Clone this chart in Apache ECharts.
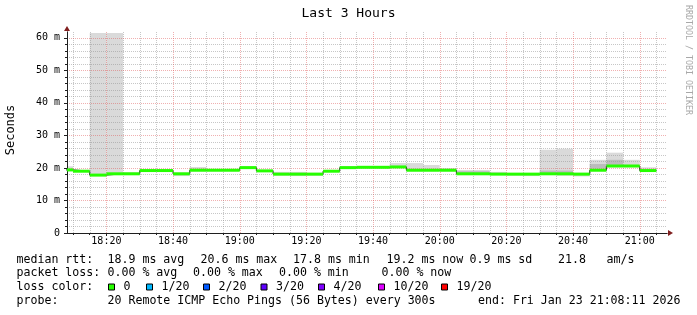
<!DOCTYPE html>
<html><head><meta charset="utf-8">
<script src="https://cdn.jsdelivr.net/npm/echarts@6/dist/echarts.min.js"></script>
<style>html,body{margin:0;padding:0;background:#fff}#c{width:697px;height:315px}</style>
</head><body><div id="c"></div>
<script>
// ---------- data ----------
const chartTitle = 'Last 3 Hours';
const yAxisName = 'Seconds';
const credit = 'RRDTOOL / TOBI OETIKER';
const startTime = '18:08:11';
const endTime = '21:08:11';
const binMinutes = 5;
const binStarts = ['18:05','18:10','18:15','18:20','18:25','18:30','18:35','18:40','18:45','18:50',
  '18:55','19:00','19:05','19:10','19:15','19:20','19:25','19:30','19:35','19:40',
  '19:45','19:50','19:55','20:00','20:05','20:10','20:15','20:20','20:25','20:30',
  '20:35','20:40','20:45','20:50','20:55','21:00'];
const medianMs = [19.4,19.0,17.8,18.2,18.2,19.2,19.2,18.2,19.3,19.3,
  19.3,20.1,19.1,18.1,18.1,18.1,19.0,20.1,20.2,20.2,
  20.3,19.3,19.3,19.3,18.2,18.2,18.1,18.1,18.1,18.2,
  18.2,18.1,19.3,20.6,20.6,19.2];
const smokeLo = [19.0,18.8,17.5,17.9,17.9,18.9,18.9,17.5,19.0,19.0,
  19.0,19.8,18.9,17.6,17.5,17.6,18.8,19.8,19.9,19.9,
  20.0,19.0,19.0,19.0,17.9,17.9,17.9,17.6,17.5,17.9,
  17.6,17.4,19.0,20.2,20.2,19.0];
const smokeHi = [20.5,19.4,61.5,61.5,18.7,19.4,19.4,18.6,20.3,19.6,
  19.6,20.5,19.4,18.8,18.8,18.5,19.3,20.5,20.6,20.5,
  21.5,21.5,20.9,19.9,19.4,19.4,18.8,18.4,18.4,25.6,
  25.9,18.5,22.5,24.7,22.5,20.2];
const smokeDarkLo = [null,null,null,null,null,null,null,null,null,null,
  null,null,null,null,null,null,null,null,null,null,
  null,null,null,null,18.4,18.4,null,null,null,18.4,
  18.4,null,19.8,20.8,null,null];
const smokeDarkHi = [null,null,null,null,null,null,null,null,null,null,
  null,null,null,null,null,null,null,null,null,null,
  null,null,null,null,19.0,19.0,null,null,null,19.2,
  19.2,null,21.2,22.5,null,null];
const majorXTicks = ['18:20','18:40','19:00','19:20','19:40','20:00','20:20','20:40','21:00'];
const minorXTicks = ['18:10','18:15','18:25','18:30','18:35','18:45','18:50','18:55','19:05','19:10',
  '19:15','19:25','19:30','19:35','19:45','19:50','19:55','20:05','20:10','20:15',
  '20:25','20:30','20:35','20:45','20:50','20:55','21:05'];
const majorYTicks = [0,10,20,30,40,50,60];
const minorYTicks = [2,4,6,8,12,14,16,18,22,24,26,28,32,34,36,38,42,44,46,48,52,54,56,58];
const yMax = 61.8;

const rttRow = ['median rtt:', '18.9 ms avg', '20.6 ms max', '17.8 ms min', '19.2 ms now', '0.9 ms sd', '21.8', 'am/s'];
const rttX = [16.5, 107.5, 200.5, 293, 386.5, 469.5, 558, 606.5];
const lossRow = ['packet loss:', '0.00 % avg', '0.00 % max', '0.00 % min', '0.00 % now'];
const lossX = [16.5, 107.5, 193, 279, 381.5];
const lossColorLabels = ['0', '1/20', '2/20', '3/20', '4/20', '10/20', '19/20'];
const lossColors = ['#26ff00', '#00b8ff', '#0059ff', '#5e00ff', '#7e00ff', '#dd00ff', '#ff0000'];
const lossColorX = [108, 146, 203, 260.5, 318, 378, 441];
const probeRow = ['probe:', '20 Remote ICMP Echo Pings (56 Bytes) every 300s', 'end: Fri Jan 23 21:08:11 2026'];
const probeX = [16.5, 107.5, 478];

// ---------- helpers ----------
function toMin(s) { const p = s.split(':').map(Number); return p[0] * 60 + p[1] + (p[2] || 0) / 60; }
function fmtTime(v) { const h = Math.floor(v / 60), m = Math.round(v - h * 60); return h + ':' + (m < 10 ? '0' : '') + m; }
const xMin = toMin(startTime), xMax = toMin(endTime);
const MONO = '"DejaVu Sans Mono", "Liberation Mono", monospace';

const smokeData = binStarts.map((t, i) => [toMin(t), toMin(t) + binMinutes, smokeLo[i], smokeHi[i]]);
const darkData = binStarts.map((t, i) => [toMin(t), toMin(t) + binMinutes, smokeDarkLo[i], smokeDarkHi[i]])
  .filter(d => d[2] != null);
const bandData = binStarts.map((t, i) => [toMin(t), toMin(t) + binMinutes, medianMs[i]]);
const lineData = binStarts.map((t, i) => [toMin(t), medianMs[i]]);
lineData.push([toMin(binStarts[binStarts.length - 1]) + binMinutes, medianMs[medianMs.length - 1]]);

function clipTo(params, r) {
  const cs = params.coordSys;
  return echarts.graphic.clipRectByRect(r, { x: cs.x, y: cs.y, width: cs.width, height: cs.height });
}
function smokeRender(color) {
  return function (params, api) {
    const p0 = api.coord([api.value(0), api.value(3)]);
    const p1 = api.coord([api.value(1), api.value(2)]);
    const shape = clipTo(params, { x: p0[0], y: p0[1], width: p1[0] - p0[0], height: p1[1] - p0[1] });
    return shape && { type: 'rect', shape: shape, style: { fill: color } };
  };
}
function bandRender(params, api) {
  const p0 = api.coord([api.value(0), api.value(2)]);
  const p1 = api.coord([api.value(1), api.value(2)]);
  const shape = clipTo(params, { x: p0[0], y: p0[1] - 1.5, width: p1[0] - p0[0], height: 3 });
  return shape && { type: 'rect', shape: shape, style: { fill: '#26ff00' } };
}
function vGridRender(color) {
  return function (params, api) {
    const p0 = api.coord([api.value(0), 0]);
    const p1 = api.coord([api.value(0), yMax]);
    const x = Math.round(p0[0]) + 0.5;
    return { type: 'line', silent: true, shape: { x1: x, y1: p0[1], x2: x, y2: p1[1] }, style: { stroke: color, lineWidth: 1, lineDash: [1, 1] } };
  };
}
function hGridRender(color) {
  return function (params, api) {
    const p0 = api.coord([xMin, api.value(0)]);
    const p1 = api.coord([xMax, api.value(0)]);
    const y = Math.round(p0[1]) + 0.5;
    return { type: 'line', silent: true, shape: { x1: p0[0], y1: y, x2: p1[0], y2: y }, style: { stroke: color, lineWidth: 1, lineDash: [1, 1] } };
  };
}
const MINOR = 'rgba(143,143,143,0.5)', MAJOR = 'rgba(222,79,79,0.45)';
const AXIS = '#1f1f1f', ARROW = '#801f1f';

const graphics = [];
graphics.push({ type: 'text', x: 348.5, y: 14, style: { text: chartTitle, font: '13px ' + MONO, fill: '#000', align: 'center', verticalAlign: 'middle' } });
graphics.push({ type: 'text', x: 11, y: 130, rotation: Math.PI / 2, style: { text: yAxisName, font: '12px ' + MONO, fill: '#000', align: 'center', verticalAlign: 'middle' } });
graphics.push({ type: 'text', x: 688.5, y: 60, rotation: -Math.PI / 2, style: { text: credit, font: '8.3px ' + MONO, fill: '#a8a8a8', align: 'center', verticalAlign: 'middle' } });
const rowY = [259.5, 273, 287, 300.5];
function addText(str, x, y) {
  graphics.push({ type: 'text', x: x, y: y, style: { text: str, font: '11.6px ' + MONO, fill: '#000', align: 'left', verticalAlign: 'middle' } });
}
rttRow.forEach((s, i) => addText(s, rttX[i], rowY[0]));
lossRow.forEach((s, i) => addText(s, lossX[i], rowY[1]));
addText('loss color:', 16.5, rowY[2]);
lossColorLabels.forEach((s, i) => {
  graphics.push({ type: 'rect', shape: { x: lossColorX[i] + 0.5, y: rowY[2] - 3, width: 6, height: 6 }, style: { fill: lossColors[i], stroke: '#000', lineWidth: 1 } });
  addText(s, lossColorX[i] + 15.5, rowY[2]);
});
probeRow.forEach((s, i) => addText(s, probeX[i], rowY[3]));

const chart = echarts.init(document.getElementById('c'), null, { renderer: 'canvas' });
chart.setOption({
  animation: false,
  backgroundColor: '#ffffff',
  grid: { left: 67, right: 30, top: 32, bottom: 82, containLabel: false },
  xAxis: [
    { // minor
      type: 'value', min: xMin, max: xMax, position: 'bottom', z: 3,
      axisLine: { show: true, onZero: false, lineStyle: { color: AXIS, width: 1 } },
      axisTick: { show: true, customValues: minorXTicks.map(toMin), length: 2, lineStyle: { color: AXIS } },
      axisLabel: { show: false },
      splitLine: { show: false }
    },
    { // major
      type: 'value', min: xMin, max: xMax, position: 'bottom', z: 2,
      axisLine: { show: true, onZero: false, symbol: ['none', 'triangle'], symbolSize: [6, 5], symbolOffset: [0, 3.5], lineStyle: { color: ARROW, width: 1 } },
      axisTick: { show: true, customValues: majorXTicks.map(toMin), length: 3, lineStyle: { color: AXIS } },
      axisLabel: { show: true, customValues: majorXTicks.map(toMin), formatter: fmtTime, fontFamily: MONO, fontSize: 10, color: '#000', margin: 3 },
      splitLine: { show: false }
    }
  ],
  yAxis: [
    { // minor
      type: 'value', min: 0, max: yMax, position: 'left', z: 3,
      axisLine: { show: true, onZero: false, lineStyle: { color: AXIS, width: 1 } },
      axisTick: { show: true, customValues: minorYTicks, length: 2, lineStyle: { color: AXIS } },
      axisLabel: { show: false },
      splitLine: { show: false }
    },
    { // major
      type: 'value', min: 0, max: yMax, position: 'left', z: 2,
      axisLine: { show: true, onZero: false, symbol: ['none', 'triangle'], symbolSize: [6, 5], symbolOffset: [0, 3.5], lineStyle: { color: ARROW, width: 1 } },
      axisTick: { show: true, customValues: majorYTicks, length: 3, lineStyle: { color: AXIS } },
      axisLabel: { show: true, customValues: majorYTicks, formatter: v => (v === 0 ? '0' : v + ' m'), fontFamily: MONO, fontSize: 10, color: '#000', margin: 7 },
      splitLine: { show: false }
    }
  ],
  series: [
    { type: 'custom', name: 'smoke', xAxisIndex: 0, yAxisIndex: 0, z: 1, renderItem: smokeRender('#dadada'), encode: { x: [0, 1], y: [2, 3] }, data: smokeData },
    { type: 'custom', name: 'smoke dark', xAxisIndex: 0, yAxisIndex: 0, z: 1, renderItem: smokeRender('#bcbcbc'), encode: { x: [0, 1], y: [2, 3] }, data: darkData },
    { type: 'custom', name: 'minor x grid', xAxisIndex: 0, yAxisIndex: 0, z: 1.5, silent: true, renderItem: vGridRender(MINOR), encode: { x: 0 }, data: minorXTicks.map(t => [toMin(t)]) },
    { type: 'custom', name: 'minor y grid', xAxisIndex: 0, yAxisIndex: 0, z: 1.5, silent: true, renderItem: hGridRender(MINOR), encode: { y: 0 }, data: minorYTicks.map(v => [v]) },
    { type: 'custom', name: 'major x grid', xAxisIndex: 0, yAxisIndex: 0, z: 1.6, silent: true, renderItem: vGridRender(MAJOR), encode: { x: 0 }, data: majorXTicks.map(t => [toMin(t)]) },
    { type: 'custom', name: 'major y grid', xAxisIndex: 0, yAxisIndex: 0, z: 1.6, silent: true, renderItem: hGridRender(MAJOR), encode: { y: 0 }, data: majorYTicks.filter(v => v > 0).map(v => [v]) },
    { type: 'line', name: 'median', xAxisIndex: 0, yAxisIndex: 0, z: 4, step: 'end', showSymbol: false, symbol: 'none', lineStyle: { color: '#202020', width: 1 }, data: lineData, clip: true },
    { type: 'custom', name: 'median band', xAxisIndex: 0, yAxisIndex: 0, z: 5, renderItem: bandRender, encode: { x: [0, 1], y: 2 }, data: bandData }
  ],
  graphic: graphics
});
</script></body></html>
